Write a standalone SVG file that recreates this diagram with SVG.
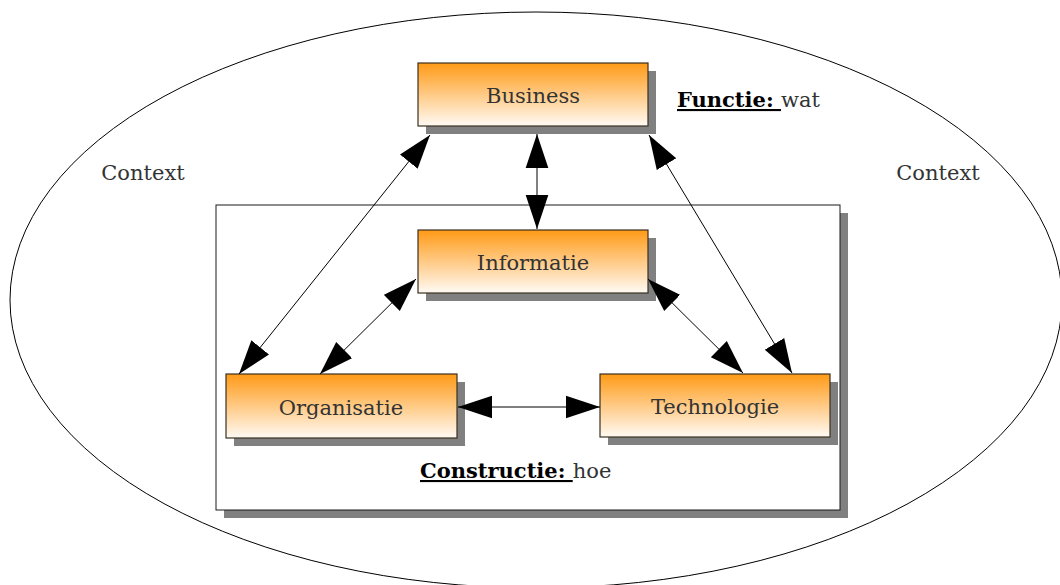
<svg xmlns="http://www.w3.org/2000/svg" width="1060" height="585" viewBox="0 0 1060 585">
  <style>
    .box { fill: url(#orange); stroke: #3a3020; stroke-width: 1.2; }
    .shadow { fill: #808080; }
    text { font-family: 'DejaVu Serif', 'Liberation Serif', serif; font-size: 21px; fill: #333333; }
    .key { font-weight: bold; fill: #000000; text-decoration: underline; }
    .conn { stroke: #000000; stroke-width: 1; fill: none; marker-start: url(#head); marker-end: url(#head); }
  </style>
  <defs>
    <linearGradient id="orange" x1="0" y1="0" x2="0" y2="1">
      <stop offset="0" stop-color="#ff9a16"/>
      <stop offset="1" stop-color="#fffaf4"/>
    </linearGradient>
    <marker id="head" markerUnits="userSpaceOnUse" markerWidth="34" markerHeight="24" viewBox="0 0 33 22" refX="33" refY="11" orient="auto-start-reverse">
      <path d="M0,0 L33,11 L0,22 Z" fill="#000000"/>
    </marker>
  </defs>

  <rect width="1060" height="585" fill="#ffffff"/>

  <!-- context ellipse -->
  <g id="context">
    <ellipse cx="536" cy="300" rx="526" ry="288" fill="none" stroke="#000000" stroke-width="1"/>
    <text x="143" y="180" text-anchor="middle">Context</text>
    <text x="938" y="180" text-anchor="middle">Context</text>
  </g>

  <!-- construction frame -->
  <g id="constructie">
    <rect x="224" y="213" width="624" height="305" class="shadow"/>
    <rect x="216" y="205" width="624" height="305" fill="#ffffff" stroke="#1a1a1a" stroke-width="1"/>
    <text x="420" y="478"><tspan class="key">Constructie:&#160;</tspan>hoe</text>
  </g>

  <g id="business">
    <rect x="426" y="71" width="230" height="63" class="shadow"/>
    <rect x="418" y="63" width="230" height="63" class="box"/>
    <text x="533" y="103" text-anchor="middle">Business</text>
  </g>

  <g id="functie">
    <text x="677" y="107"><tspan class="key">Functie:&#160;</tspan>wat</text>
  </g>

  <g id="informatie">
    <rect x="426" y="238" width="230" height="63" class="shadow"/>
    <rect x="418" y="230" width="230" height="63" class="box"/>
    <text x="533" y="270" text-anchor="middle">Informatie</text>
  </g>

  <g id="organisatie">
    <rect x="234" y="382" width="231" height="64" class="shadow"/>
    <rect x="226" y="374" width="231" height="64" class="box"/>
    <text x="341" y="415" text-anchor="middle">Organisatie</text>
  </g>

  <g id="technologie">
    <rect x="608" y="382" width="230" height="63" class="shadow"/>
    <rect x="600" y="374" width="230" height="63" class="box"/>
    <text x="715" y="414" text-anchor="middle">Technologie</text>
  </g>

  <!-- connectors -->
  <g id="connectors">
    <line class="conn" x1="537" y1="134" x2="537" y2="229"/>
    <line class="conn" x1="430" y1="135" x2="239" y2="374"/>
    <line class="conn" x1="649" y1="135" x2="792" y2="373"/>
    <line class="conn" x1="416" y1="279" x2="320" y2="374"/>
    <line class="conn" x1="648" y1="279" x2="743" y2="373"/>
    <line class="conn" x1="458" y1="407" x2="600" y2="407"/>
  </g>
</svg>
